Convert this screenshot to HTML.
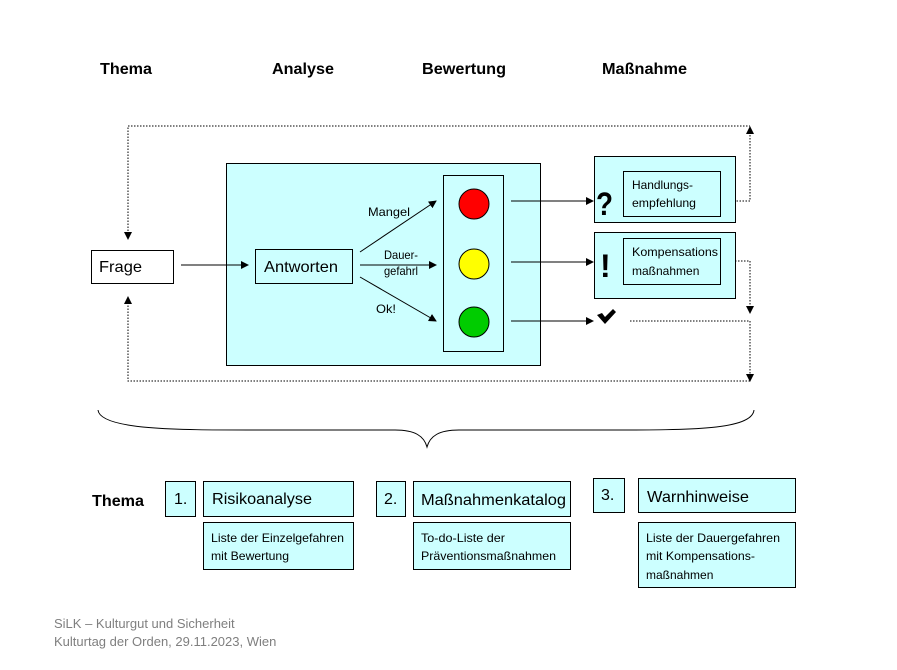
<!DOCTYPE html>
<html><head><meta charset="utf-8"><style>
html,body{margin:0;padding:0;background:#fff;}
svg{display:block;font-family:"Liberation Sans",Arial,sans-serif;}
</style></head><body>
<svg width="897" height="670" viewBox="0 0 897 670" xmlns="http://www.w3.org/2000/svg">
<defs>
<marker id="a" markerWidth="8" markerHeight="8" refX="7" refY="4" orient="auto" markerUnits="userSpaceOnUse"><path d="M0,0 L8,4 L0,8z" fill="#000"/></marker>
</defs>
<g font-weight="bold" font-size="16">
<text x="100" y="74" textLength="52" lengthAdjust="spacingAndGlyphs">Thema</text>
<text x="272" y="74" textLength="62" lengthAdjust="spacingAndGlyphs">Analyse</text>
<text x="422" y="74" textLength="84" lengthAdjust="spacingAndGlyphs">Bewertung</text>
<text x="602" y="74" textLength="85" lengthAdjust="spacingAndGlyphs">Maßnahme</text>
</g>
<g fill="none" stroke="#000" stroke-width="1" stroke-dasharray="1.5,1.5">
<path d="M128,234 V126 H750 "/>
<path d="M750,132 V201 H720"/>
<path d="M720,261 H750 V306"/>
<path d="M630,321 H750 V374"/>
<path d="M750,381 H128 V302"/>
</g>
<g fill="#000">
<path d="M124,232 L132,232 L128,240z"/>
<path d="M746,134 L754,134 L750,126z"/>
<path d="M746,306 L754,306 L750,314z"/>
<path d="M746,374 L754,374 L750,382z"/>
<path d="M124,304 L132,304 L128,296z"/>
</g>
<g stroke="#000" stroke-width="1">
<rect x="91.5" y="250.5" width="82" height="33" fill="#fff"/>
<rect x="226.5" y="163.5" width="314" height="202" fill="#ccffff"/>
<rect x="255.5" y="249.5" width="97" height="34" fill="#ccffff"/>
<rect x="443.5" y="175.5" width="60" height="176" fill="#ccffff"/>
<circle cx="474" cy="204" r="15" fill="#ff0000"/>
<circle cx="474" cy="264" r="15" fill="#ffff00"/>
<circle cx="474" cy="322" r="15" fill="#00cc00"/>
<rect x="594.5" y="156.5" width="141" height="66" fill="#ccffff"/>
<rect x="623.5" y="171.5" width="97" height="45" fill="#ccffff"/>
<rect x="594.5" y="232.5" width="141" height="66" fill="#ccffff"/>
<rect x="623.5" y="238.5" width="97" height="46" fill="#ccffff"/>
</g>
<g stroke="#000" stroke-width="1" marker-end="url(#a)">
<line x1="181" y1="265" x2="248" y2="265"/>
<line x1="360" y1="252" x2="436" y2="201"/>
<line x1="360" y1="265" x2="436" y2="265"/>
<line x1="360" y1="277" x2="436" y2="321"/>
<line x1="511" y1="201" x2="593" y2="201"/>
<line x1="511" y1="262" x2="593" y2="262"/>
<line x1="511" y1="321" x2="593" y2="321"/>
</g>
<g font-size="16">
<text x="99" y="272" textLength="43" lengthAdjust="spacingAndGlyphs">Frage</text>
<text x="264" y="272" textLength="74" lengthAdjust="spacingAndGlyphs">Antworten</text>
</g>
<g font-size="12">
<text x="368" y="216" textLength="42" lengthAdjust="spacingAndGlyphs">Mangel</text>
<text x="384" y="259" textLength="34" lengthAdjust="spacingAndGlyphs">Dauer-</text>
<text x="384" y="275" textLength="34" lengthAdjust="spacingAndGlyphs">gefahrl</text>
<text x="376" y="313" textLength="20" lengthAdjust="spacingAndGlyphs">Ok!</text>
<text x="632" y="189" textLength="61" lengthAdjust="spacingAndGlyphs">Handlungs-</text>
<text x="632" y="207" textLength="64" lengthAdjust="spacingAndGlyphs">empfehlung</text>
<text x="632" y="256" textLength="86" lengthAdjust="spacingAndGlyphs">Kompensations</text>
<text x="632" y="275">maßnahmen</text>
</g>
<text x="596" y="215" font-size="32" font-weight="bold" textLength="17" lengthAdjust="spacingAndGlyphs">?</text>
<text x="600" y="277" font-size="32" font-weight="bold">!</text>
<path d="M597,315 L602,313 L605,317 L613,309 L616,312 L605,324z" fill="#000"/>
<path d="M98,410 C100,430 180,430 250,430 L395,430 C415,430 424,436 427,447 C430,436 439,430 459,430 L610,430 C690,430 752,430 754,410" fill="none" stroke="#000" stroke-width="1"/>
<text x="92" y="506" font-size="16" font-weight="bold" textLength="52" lengthAdjust="spacingAndGlyphs">Thema</text>
<g stroke="#000" stroke-width="1" fill="#ccffff">
<rect x="165.5" y="481.5" width="30" height="35"/>
<rect x="203.5" y="481.5" width="150" height="35"/>
<rect x="203.5" y="522.5" width="150" height="47"/>
<rect x="376.5" y="481.5" width="29" height="35"/>
<rect x="413.5" y="481.5" width="157" height="35"/>
<rect x="413.5" y="522.5" width="157" height="47"/>
<rect x="593.5" y="478.5" width="31" height="34"/>
<rect x="638.5" y="478.5" width="157" height="34"/>
<rect x="638.5" y="522.5" width="157" height="65"/>
</g>
<g font-size="16">
<text x="174" y="504">1.</text>
<text x="212" y="504" textLength="100" lengthAdjust="spacingAndGlyphs">Risikoanalyse</text>
<text x="384" y="504">2.</text>
<text x="421" y="505" textLength="145" lengthAdjust="spacingAndGlyphs">Maßnahmenkatalog</text>
<text x="601" y="500">3.</text>
<text x="647" y="502" textLength="102" lengthAdjust="spacingAndGlyphs">Warnhinweise</text>
</g>
<g font-size="12">
<text x="211" y="542" textLength="133" lengthAdjust="spacingAndGlyphs">Liste der Einzelgefahren</text>
<text x="211" y="560" textLength="78" lengthAdjust="spacingAndGlyphs">mit Bewertung</text>
<text x="421" y="542" textLength="84" lengthAdjust="spacingAndGlyphs">To-do-Liste der</text>
<text x="421" y="560" textLength="135" lengthAdjust="spacingAndGlyphs">Präventionsmaßnahmen</text>
<text x="646" y="542" textLength="134" lengthAdjust="spacingAndGlyphs">Liste der Dauergefahren</text>
<text x="646" y="560" textLength="109" lengthAdjust="spacingAndGlyphs">mit Kompensations-</text>
<text x="646" y="579">maßnahmen</text>
</g>
<g font-size="13" fill="#7f7f7f">
<text x="54" y="628">SiLK – Kulturgut und Sicherheit</text>
<text x="54" y="646">Kulturtag der Orden, 29.11.2023, Wien</text>
</g>
</svg>
</body></html>
